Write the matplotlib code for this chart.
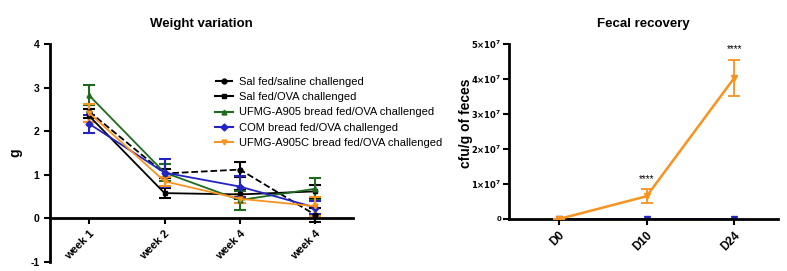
import matplotlib.pyplot as plt
from matplotlib.lines import Line2D
import numpy as np

plt.rcParams['font.family'] = ['Liberation Sans', 'DejaVu Sans']

# Weight variation data
weeks = ['week 1', 'week 2', 'week 4', 'week 4']
labels = ['Sal fed/saline challenged', 'Sal fed/OVA challenged',
          'UFMG-A905 bread fed/OVA challenged', 'COM bread fed/OVA challenged',
          'UFMG-A905C bread fed/OVA challenged']
sal_saline = [2.45, 1.03, 1.12, 0.08]
sal_saline_err = [0.15, 0.1, 0.17, 0.17]
sal_ova = [2.35, 0.58, 0.55, 0.62]
sal_ova_err = [0.15, 0.12, 0.1, 0.15]
a905 = [2.82, 1.05, 0.42, 0.68]
a905_err = [0.23, 0.2, 0.22, 0.25]
com = [2.17, 1.05, 0.73, 0.25]
com_err = [0.2, 0.32, 0.25, 0.15]
a905c = [2.42, 0.85, 0.45, 0.28]
a905c_err = [0.2, 0.1, 0.1, 0.22]

# Fecal recovery data
days = ['D0', 'D10', 'D24']
fecal_a905c = [0, 6.5e6, 4.03e7]
fecal_a905c_err = [0, 2.0e6, 5.2e6]
fecal_com = [0, 0, 0]

green = '#1E6B1E'
blue = '#2424C4'
orange = '#F7931E'

fig = plt.figure(figsize=(7.87, 2.71), dpi=100)

# left panel
ax = fig.add_axes([0.0635, 0.0332, 0.385, 0.8044])
ax.spines['top'].set_visible(False)
ax.spines['right'].set_visible(False)
ax.spines['bottom'].set_position(('data', 0))
ax.spines['left'].set_linewidth(2)
ax.spines['bottom'].set_linewidth(2)

x = np.arange(len(weeks))
series = [
    (sal_saline, sal_saline_err, 'black', 'o', '--'),
    (sal_ova, sal_ova_err, 'black', 's', '-'),
    (a905, a905_err, green, '^', '-'),
    (com, com_err, blue, 'D', '-'),
    (a905c, a905c_err, orange, 'v', '-'),
]
handles = []
for (vals, errs, c, m, ls), lab in zip(series, labels):
    ax.errorbar(x, vals, yerr=errs, color=c, marker=m, ms=3.5, ls=ls, lw=1.3,
                capsize=4, elinewidth=1.5, capthick=1.5)
    handles.append(Line2D([], [], color=c, marker=m, ms=3.5, ls=ls, lw=1.5, label=lab))
ax.set_xlim(-0.52, 3.5)
ax.set_ylim(-1, 4)
ax.set_yticks([-1, 0, 1, 2, 3, 4])
ax.set_yticklabels(['-1', '0', '1', '2', '3', '4'], fontweight='bold', fontsize=7.5)
ax.set_xticks(x)
ax.set_xticklabels(weeks, rotation=45, ha='right', rotation_mode='anchor', fontweight='bold', fontsize=8)
ax.tick_params(width=1.5, length=4)
ax.set_ylabel('g', fontweight='bold', fontsize=10)
ax.yaxis.set_label_coords(-0.09, 0.5)
ax.set_title('Weight variation', fontweight='bold', fontsize=9.5, pad=12)
ax.legend(handles=handles, loc='upper left', bbox_to_anchor=(0.53, 0.87), frameon=False, fontsize=8,
          handlelength=1.6, handletextpad=0.6, labelspacing=0.48, borderaxespad=0)

# right panel
ax2 = fig.add_axes([0.6468, 0.1919, 0.3418, 0.6458])
xd = np.arange(len(days))
ax2.errorbar(xd, fecal_a905c, yerr=fecal_a905c_err, color=orange, marker='v', ms=4, lw=1.8,
             capsize=4, elinewidth=1.3, capthick=1.3, zorder=3)
ax2.plot(xd, fecal_com, color=blue, marker='v', ms=4, lw=1.8, zorder=2)
ax2.set_xlim(-0.57, 2.5)
ax2.set_ylim(0, 5e7)
yt = [0, 1e7, 2e7, 3e7, 4e7, 5e7]
ax2.set_yticks(yt)
ax2.set_yticklabels(['0'] + [r'$\mathbf{%d{\times}10^{7}}$' % int(v / 1e7) for v in yt[1:]],
                    fontsize=6, fontweight='bold')
ax2.set_xticks(xd)
ax2.set_xticklabels(days, rotation=45, ha='right', rotation_mode='anchor', fontweight='bold', fontsize=8.5)
ax2.spines['top'].set_visible(False)
ax2.spines['right'].set_visible(False)
ax2.spines['left'].set_linewidth(2)
ax2.spines['bottom'].set_linewidth(2)
ax2.tick_params(width=1.5, length=4)
ax2.tick_params(axis='y', pad=1.5)
ax2.set_ylabel('cfu/g of feces', fontweight='bold', fontsize=10)
ax2.yaxis.set_label_coords(-0.135, 0.546)
ax2.set_title('Fecal recovery', fontweight='bold', fontsize=9.5, pad=12)
for xi, v, e in zip(xd[1:], fecal_a905c[1:], fecal_a905c_err[1:]):
    ax2.text(xi, v + e + 1.5e6, '****', ha='center', va='bottom', fontsize=7)

fig.savefig('out.png', dpi=100)
